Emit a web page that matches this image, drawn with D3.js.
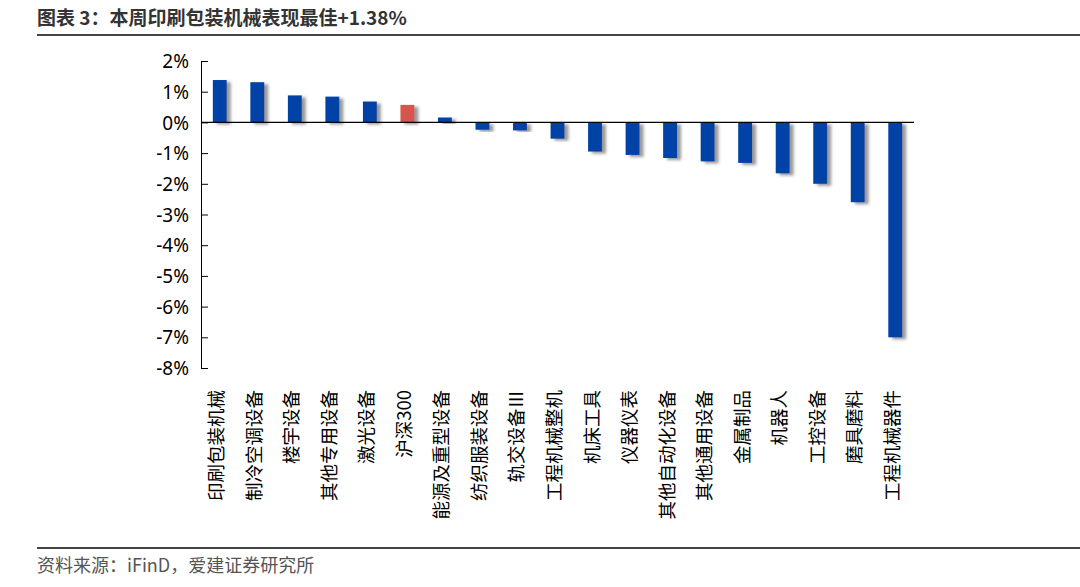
<!DOCTYPE html>
<html>
<head>
<meta charset="utf-8">
<script src="https://cdn.jsdelivr.net/npm/d3@7"></script>
<style>
  body { margin: 0; background: #fff; }
  text { font-family: "Noto Sans CJK SC", "Noto Sans", sans-serif; }
</style>
</head>
<body>
<div class="canvas"></div>
<script>
// data
const categories = ["印刷包装机械", "制冷空调设备", "楼宇设备", "其他专用设备", "激光设备", "沪深300",
  "能源及重型设备", "纺织服装设备", "轨交设备Ⅲ", "工程机械整机", "机床工具", "仪器仪表",
  "其他自动化设备", "其他通用设备", "金属制品", "机器人", "工控设备", "磨具磨料", "工程机械器件"];
const values = [1.38, 1.31, 0.88, 0.84, 0.68, 0.57, 0.16, -0.24, -0.26, -0.53, -0.95, -1.06,
  -1.16, -1.27, -1.32, -1.66, -2.0, -2.6, -7.0];
const yTicks = [2, 1, 0, -1, -2, -3, -4, -5, -6, -7, -8];

// dimensions
const w = 1080;
const h = 587;
const plot = { left: 201, right: 914, top: 60, bottom: 368 };

const svg = d3.select(".canvas").append("svg").attr("width", w).attr("height", h);

// bar shadow
const defs = svg.append("defs");
defs.append("filter")
  .attr("id", "shadow")
  .attr("x", "-50%").attr("y", "-10%").attr("width", "200%").attr("height", "130%")
  .append("feDropShadow")
  .attr("dx", 4).attr("dy", 2).attr("stdDeviation", 1.8)
  .attr("flood-color", "#555").attr("flood-opacity", 0.6);

// title + rules
svg.append("text")
  .attr("x", 37).attr("y", 25)
  .attr("font-size", 19).attr("font-weight", "bold").attr("fill", "#333")
  .text("图表 3：本周印刷包装机械表现最佳+1.38%");
svg.append("line").attr("x1", 37).attr("x2", w).attr("y1", 35).attr("y2", 35)
  .attr("stroke", "#444").attr("stroke-width", 2);
svg.append("line").attr("x1", 37).attr("x2", w).attr("y1", 548).attr("y2", 548)
  .attr("stroke", "#444").attr("stroke-width", 2);
svg.append("text")
  .attr("x", 37).attr("y", 572)
  .attr("font-size", 18).attr("fill", "#555")
  .text("资料来源：iFinD，爱建证券研究所");

// scales
const xScale = d3.scaleBand().domain(categories).range([plot.left, plot.right]).paddingInner(0.63).paddingOuter(0.315);
const yScale = d3.scaleLinear().domain([-8, 2]).range([plot.bottom, plot.top + 1]);

// y axis
const yAxis = d3.axisRight(yScale).tickValues(yTicks).tickSize(7).tickFormat(d => d + "%");
const yg = svg.append("g").attr("transform", `translate(${plot.left},0)`).call(yAxis);
yg.select(".domain").attr("stroke", "#000").attr("stroke-width", 1);
yg.selectAll(".tick line").attr("stroke", "#000");
yg.selectAll(".tick text")
  .attr("x", -12).attr("text-anchor", "end").attr("dy", "0.35em")
  .attr("font-size", 19).attr("fill", "#000")
  .style("font-family", '"Noto Sans", sans-serif');

// bars
svg.append("g").selectAll("rect")
  .data(values)
  .join("rect")
  .attr("x", (d, i) => xScale(categories[i]))
  .attr("width", xScale.bandwidth())
  .attr("y", d => yScale(Math.max(0, d)))
  .attr("height", d => Math.abs(yScale(d) - yScale(0)))
  .attr("fill", (d, i) => categories[i] === "沪深300" ? "#D65650" : "#0542A5")
  .attr("filter", "url(#shadow)");

// zero line
svg.append("line")
  .attr("x1", plot.left).attr("x2", plot.right)
  .attr("y1", yScale(0)).attr("y2", yScale(0))
  .attr("stroke", "#000").attr("stroke-width", 1.2);

// category labels (vertical)
svg.append("g").selectAll("text")
  .data(categories)
  .join("text")
  .attr("transform", d => `translate(${xScale(d) + xScale.bandwidth() / 2 - 3},390) rotate(-90)`)
  .attr("text-anchor", "end")
  .attr("dy", "0.35em")
  .attr("font-size", 18.5).attr("fill", "#000")
  .text(d => d);
</script>
</body>
</html>
